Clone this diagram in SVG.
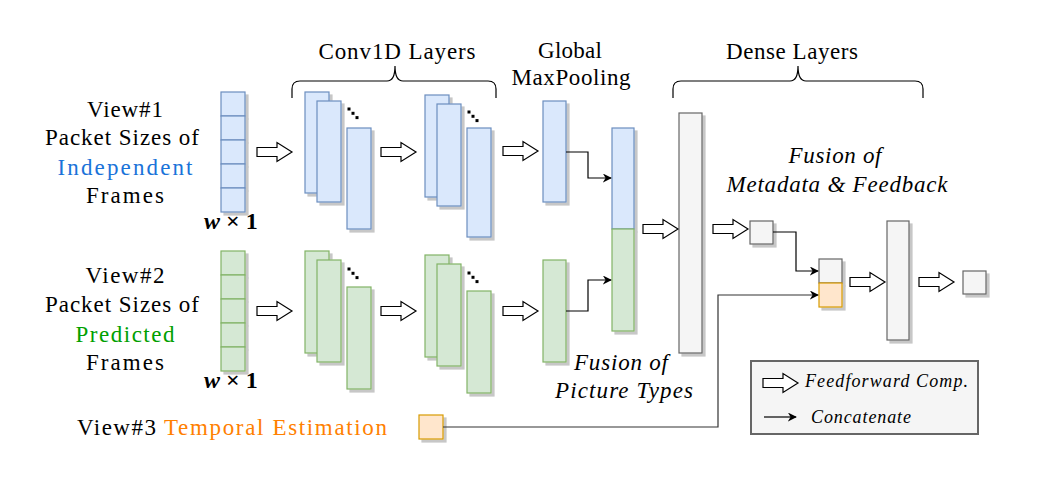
<svg xmlns="http://www.w3.org/2000/svg" width="1052" height="479" viewBox="0 0 1052 479">
<style>
text{font-family:"Liberation Serif","Times New Roman",serif;fill:#000}
.t{font-size:23px}
.c{text-anchor:middle}
.i{font-style:italic}
.blue{fill:#dae8fc;stroke:#6c8ebf;stroke-width:1.2}
.green{fill:#d5e8d4;stroke:#82b366;stroke-width:1.2}
.gray{fill:#f5f5f5;stroke:#666666;stroke-width:1.2}
.orange{fill:#ffe6cc;stroke:#d79b00;stroke-width:1.2}
.ff{fill:#fff;stroke:#000;stroke-width:1.2}
.con{fill:none;stroke:#000;stroke-width:1.2}
.brace{fill:none;stroke:#000;stroke-width:1.2}
.wx{font-size:24px;font-weight:bold}
.lg{font-size:18px;font-style:italic}
</style>
<defs>
<filter id="sh" x="-20%" y="-20%" width="150%" height="150%">
<feOffset in="SourceAlpha" dx="3" dy="3" result="o"/>
<feFlood flood-color="#000" flood-opacity="0.22"/>
<feComposite in2="o" operator="in"/>
<feMerge><feMergeNode/><feMergeNode in="SourceGraphic"/></feMerge>
</filter>
<path id="ffa" d="M0,-4.5 H20 V-9.5 L35,0 L20,9.5 V4.5 H0 Z"/>
<marker id="ah" viewBox="0 0 10 10" refX="9" refY="5" markerWidth="9" markerHeight="9" markerUnits="userSpaceOnUse" orient="auto"><path d="M0,0 L10,5 L0,10 L3,5 Z" fill="#000"/></marker>
<g id="dots"><rect x="-1.5" y="-1.5" width="3" height="3"/><rect x="2.5" y="2.8" width="3" height="3"/><rect x="6.5" y="7.1" width="3" height="3"/></g>
</defs>

<!-- labels -->
<g id="view1-label">
<text class="t c" x="125" y="117" textLength="76" lengthAdjust="spacing">View#1</text>
<text class="t c" x="122" y="145" textLength="154" lengthAdjust="spacing">Packet Sizes of</text>
<text class="t c" x="125" y="175" textLength="135" lengthAdjust="spacing" style="fill:#1a73d9">Independent</text>
<text class="t c" x="125" y="203" textLength="78" lengthAdjust="spacing">Frames</text>
<text class="wx" x="204" y="229"><tspan font-style="italic">w</tspan> × 1</text>
</g>
<g id="view2-label">
<text class="t c" x="125" y="283" textLength="79" lengthAdjust="spacing">View#2</text>
<text class="t c" x="122" y="312" textLength="154" lengthAdjust="spacing">Packet Sizes of</text>
<text class="t c" x="125" y="342" textLength="99" lengthAdjust="spacing" style="fill:#00a000">Predicted</text>
<text class="t c" x="125" y="370" textLength="78" lengthAdjust="spacing">Frames</text>
<text class="wx" x="204" y="388"><tspan font-style="italic">w</tspan> × 1</text>
</g>
<g id="view3-label">
<text class="t" x="77" y="435" textLength="79" lengthAdjust="spacing">View#3</text>
<text class="t" x="164" y="435" textLength="223" lengthAdjust="spacing" style="fill:#ff8000">Temporal Estimation</text>
</g>

<g id="headers">
<text class="t c" x="397" y="59" textLength="157" lengthAdjust="spacing">Conv1D Layers</text>
<text class="t c" x="570" y="58" textLength="64" lengthAdjust="spacing">Global</text>
<text class="t c" x="571" y="85" textLength="119" lengthAdjust="spacing">MaxPooling</text>
<text class="t c" x="792" y="59" textLength="132" lengthAdjust="spacing">Dense Layers</text>
<path class="brace" d="M292,98 V89 Q292,81 300,81 H387 Q395,81 395,66 Q395,81 403,81 H488 Q496,81 496,89 V98"/>
<path class="brace" d="M673,98 V89 Q673,81 681,81 H790 Q798,81 798,66 Q798,81 806,81 H915 Q923,81 923,89 V98"/>
<text class="t c i" x="835" y="163" textLength="93" lengthAdjust="spacing">Fusion of</text>
<text class="t c i" x="837" y="192" textLength="221" lengthAdjust="spacing">Metadata &amp; Feedback</text>
<text class="t c i" x="621" y="370" textLength="94" lengthAdjust="spacing">Fusion of</text>
<text class="t c i" x="624" y="398" textLength="138" lengthAdjust="spacing">Picture Types</text>
</g>

<!-- input columns -->
<g id="input-blue" filter="url(#sh)">
<rect class="blue" x="221" y="92" width="24" height="24"/>
<rect class="blue" x="221" y="116" width="24" height="24"/>
<rect class="blue" x="221" y="140" width="24" height="24"/>
<rect class="blue" x="221" y="164" width="24" height="24"/>
<rect class="blue" x="221" y="188" width="24" height="24"/>
</g>
<g id="input-green" filter="url(#sh)">
<rect class="green" x="221" y="251" width="24" height="24"/>
<rect class="green" x="221" y="275" width="24" height="24"/>
<rect class="green" x="221" y="299" width="24" height="24"/>
<rect class="green" x="221" y="323" width="24" height="24"/>
<rect class="green" x="221" y="347" width="24" height="24"/>
</g>

<!-- conv layers -->
<g id="conv1-blue" filter="url(#sh)">
<rect class="blue" x="305" y="92" width="24" height="101"/>
<rect class="blue" x="317" y="101" width="24" height="101"/>
<rect class="blue" x="347" y="128" width="24" height="101"/>
</g>
<use href="#dots" x="349" y="109"/>
<g id="conv2-blue" filter="url(#sh)">
<rect class="blue" x="425" y="95" width="24" height="102"/>
<rect class="blue" x="437" y="104" width="24" height="102"/>
<rect class="blue" x="467" y="128" width="24" height="109"/>
</g>
<use href="#dots" x="469" y="112"/>
<g id="conv1-green" filter="url(#sh)">
<rect class="green" x="305" y="251" width="24" height="102"/>
<rect class="green" x="317" y="260" width="24" height="102"/>
<rect class="green" x="347" y="287" width="24" height="102"/>
</g>
<use href="#dots" x="349" y="269"/>
<g id="conv2-green" filter="url(#sh)">
<rect class="green" x="425" y="255" width="24" height="102"/>
<rect class="green" x="437" y="264" width="24" height="102"/>
<rect class="green" x="467" y="291" width="24" height="102"/>
</g>
<use href="#dots" x="469" y="273"/>

<g id="gmp-blue" filter="url(#sh)"><rect class="blue" x="543" y="101" width="23" height="101"/></g>
<g id="gmp-green" filter="url(#sh)"><rect class="green" x="543" y="260" width="23" height="102"/></g>
<g id="concat1" filter="url(#sh)">
<rect class="blue" x="612" y="128" width="22" height="101"/>
<rect class="green" x="612" y="229" width="22" height="102"/>
</g>
<g id="dense1" filter="url(#sh)"><rect class="gray" x="679" y="113" width="23" height="240"/></g>
<g id="meta" filter="url(#sh)"><rect class="gray" x="750" y="221" width="23" height="23"/></g>
<g id="concat2" filter="url(#sh)">
<rect class="gray" x="819" y="259" width="23" height="24"/>
<rect class="orange" x="819" y="283" width="23" height="24"/>
</g>
<g id="dense2" filter="url(#sh)"><rect class="gray" x="887" y="221" width="22" height="119"/></g>
<g id="output" filter="url(#sh)"><rect class="gray" x="963" y="271" width="23" height="23"/></g>
<g id="temporal" filter="url(#sh)"><rect class="orange" x="419" y="415" width="24" height="24"/></g>

<g id="legend">
<rect x="751" y="361" width="227" height="73" fill="#f5f5f5" stroke="#666" stroke-width="2"/>
<use href="#ffa" class="ff" x="763" y="383"/>
<text class="lg" x="805" y="387" textLength="163" lengthAdjust="spacing">Feedforward Comp.</text>
<line class="con" x1="764" y1="417" x2="796" y2="417" marker-end="url(#ah)"/>
<text class="lg" x="811" y="423" textLength="100" lengthAdjust="spacing">Concatenate</text>
</g>

<g id="connectors">
<use href="#ffa" class="ff" x="257" y="152"/>
<use href="#ffa" class="ff" x="381" y="152"/>
<use href="#ffa" class="ff" x="503" y="151"/>
<use href="#ffa" class="ff" x="257" y="311"/>
<use href="#ffa" class="ff" x="381" y="311"/>
<use href="#ffa" class="ff" x="503" y="311"/>
<use href="#ffa" class="ff" x="643" y="229"/>
<use href="#ffa" class="ff" x="713" y="229"/>
<use href="#ffa" class="ff" x="850" y="282"/>
<use href="#ffa" class="ff" x="919" y="282"/>
<path class="con" d="M566,152 H588 V178 H611" marker-end="url(#ah)"/>
<path class="con" d="M566,311 H588 V280 H611" marker-end="url(#ah)"/>
<path class="con" d="M773,232 H796 V271 H818" marker-end="url(#ah)"/>
<path class="con" style="stroke:#333" d="M443,427 H718 V295 H818" marker-end="url(#ah)"/>
</g>
</svg>
